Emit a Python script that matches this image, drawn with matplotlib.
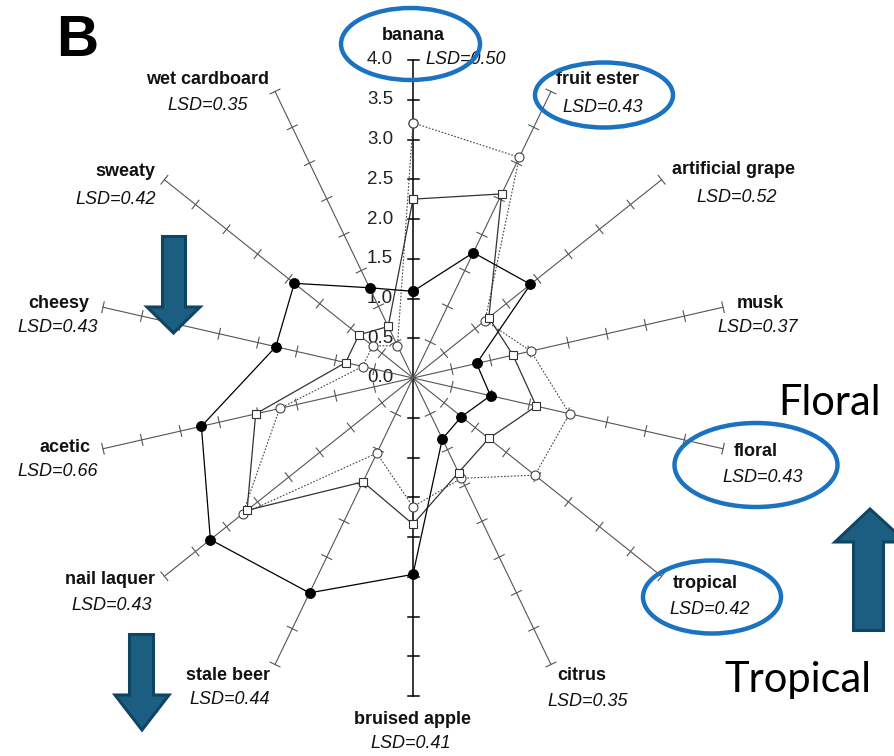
import numpy as np
import matplotlib
matplotlib.use("Agg")
import matplotlib.pyplot as plt
from matplotlib.patches import Polygon, Ellipse

plt.rcParams['font.family'] = ['Liberation Sans', 'DejaVu Sans']

# attributes, clockwise from the top
attributes = ["banana", "fruit ester", "artificial grape", "musk", "floral",
              "tropical", "citrus", "bruised apple", "stale beer", "nail laquer",
              "acetic", "cheesy", "sweaty", "wet cardboard"]
lsd = [0.50, 0.43, 0.52, 0.37, 0.43, 0.42, 0.35, 0.41, 0.44, 0.43, 0.66, 0.43, 0.42, 0.35]

# three samples
filled_vals = [1.09, 1.75, 1.89, 0.82, 1.00, 0.78, 0.85, 2.47, 3.00, 3.26, 2.73, 1.77, 1.91, 1.26]
square_vals = [2.25, 2.57, 1.22, 1.29, 1.59, 1.22, 1.32, 1.84, 1.45, 2.67, 2.03, 0.87, 0.87, 0.72]
circle_vals = [3.21, 3.08, 1.16, 1.52, 2.02, 1.96, 1.40, 1.62, 1.05, 2.74, 1.72, 0.65, 0.65, 0.45]

scale_ticks = [0.0, 0.5, 1.0, 1.5, 2.0, 2.5, 3.0, 3.5, 4.0]

W, H = 894, 756
CX, CY, PPU = 413, 378, 79.5   # centre in pixels, pixels per unit

fig = plt.figure(figsize=(W / 100, H / 100), dpi=100)
ax = fig.add_axes([0, 0, 1, 1])
ax.set_xlim(-CX / PPU, (W - CX) / PPU)
ax.set_ylim(-(H - CY) / PPU, CY / PPU)
ax.axis("off")

n = len(attributes)
ang = np.arange(n) * 2 * np.pi / n
ux, uy = np.sin(ang), np.cos(ang)
rmax = scale_ticks[-1]
th = 5.5 / PPU

for i in range(n):
    vert = i in (0, 7)
    col = "black" if vert else "#555555"
    lw = 1.1 if vert else 0.8
    ax.plot([0, rmax * ux[i]], [0, rmax * uy[i]], color=col, lw=lw, zorder=1)
    px, py = -uy[i], ux[i]
    for r in scale_ticks[1:]:
        x0, y0 = r * ux[i], r * uy[i]
        ax.plot([x0 - th * px, x0 + th * px], [y0 - th * py, y0 + th * py],
                color=col, lw=lw, zorder=1)

for r in scale_ticks:
    ax.text(-20 / PPU, r, f"{r:.1f}", ha="right", va="center", fontsize=13.5,
            color="#222222", zorder=0)


def loop(vals):
    v = np.array(vals + vals[:1])
    a = np.append(ang, ang[0])
    return v * np.sin(a), v * np.cos(a)


x, y = loop(circle_vals)
ax.plot(x, y, color="#444444", lw=0.8, ls=(0, (1.5, 1.5)), marker="o", ms=6.5,
        mfc="white", mec="#444444", mew=0.8, zorder=3)
x, y = loop(square_vals)
ax.plot(x, y, color="#333333", lw=0.9, marker="s", ms=6.2,
        mfc="white", mec="#333333", mew=0.8, zorder=4)
x, y = loop(filled_vals)
ax.plot(x, y, color="black", lw=0.9, marker="o", ms=6.8,
        mfc="black", mec="black", zorder=5)

# overlay in pixel coordinates for labels and annotations
ov = fig.add_axes([0, 0, 1, 1])
ov.set_xlim(0, W)
ov.set_ylim(H, 0)
ov.axis("off")
ov.patch.set_alpha(0)

name_pos = [(413, 35), (597, 79), (733, 170), (760, 303), (756, 452), (705, 583),
            (582, 676), (412, 720), (228, 675), (110, 580), (65, 447), (59, 303),
            (125, 172), (208, 79)]
lsd_pos = [(466, 59), (603, 107), (737, 197), (758, 328), (763, 477), (710, 609),
           (588, 702), (411, 743), (230, 700), (112, 605), (58, 471), (58, 327),
           (116, 200), (208, 105)]
for name, v, (nx, ny), (lx, ly) in zip(attributes, lsd, name_pos, lsd_pos):
    ov.text(nx, ny, name, ha="center", va="center", fontsize=13, fontweight="bold",
            color="#111111")
    ov.text(lx, ly, f"LSD={v:.2f}", ha="center", va="center", fontsize=13,
            style="italic", color="#111111")

ov.text(77, 41, "B", ha="center", va="center", fontsize=42, fontweight="bold")
ov.text(830, 403, "Floral", ha="center", va="center", fontsize=30, family="Lato")
ov.text(798, 680, "Tropical", ha="center", va="center", fontsize=30, family="Lato")

ring = "#1a72c0"
for (ex, ey, ew, eh) in [(410.5, 44, 139, 72), (604, 95, 138, 65),
                         (756, 465, 163, 84), (712, 597, 138, 73)]:
    ov.add_patch(Ellipse((ex, ey), ew, eh, fill=False, ec=ring, lw=3.2, zorder=6))

fill_c, edge_c = "#1b5e82", "#0f4561"
down1 = [(162.5, 236.5), (185.5, 236.5), (185.5, 307), (200, 307), (173.5, 333),
         (147, 307), (162.5, 307)]
down2 = [(129.5, 634.5), (153.5, 634.5), (153.5, 695), (169, 695), (142, 730),
         (115, 695), (129.5, 695)]
up1 = [(870, 509), (906, 542), (883.5, 542), (883.5, 630.5), (853.5, 630.5),
       (853.5, 542), (835, 542)]
for pts in (down1, down2, up1):
    ov.add_patch(Polygon(pts, closed=True, fc=fill_c, ec=edge_c, lw=2.2, zorder=7))

fig.savefig("out.png", dpi=100)
